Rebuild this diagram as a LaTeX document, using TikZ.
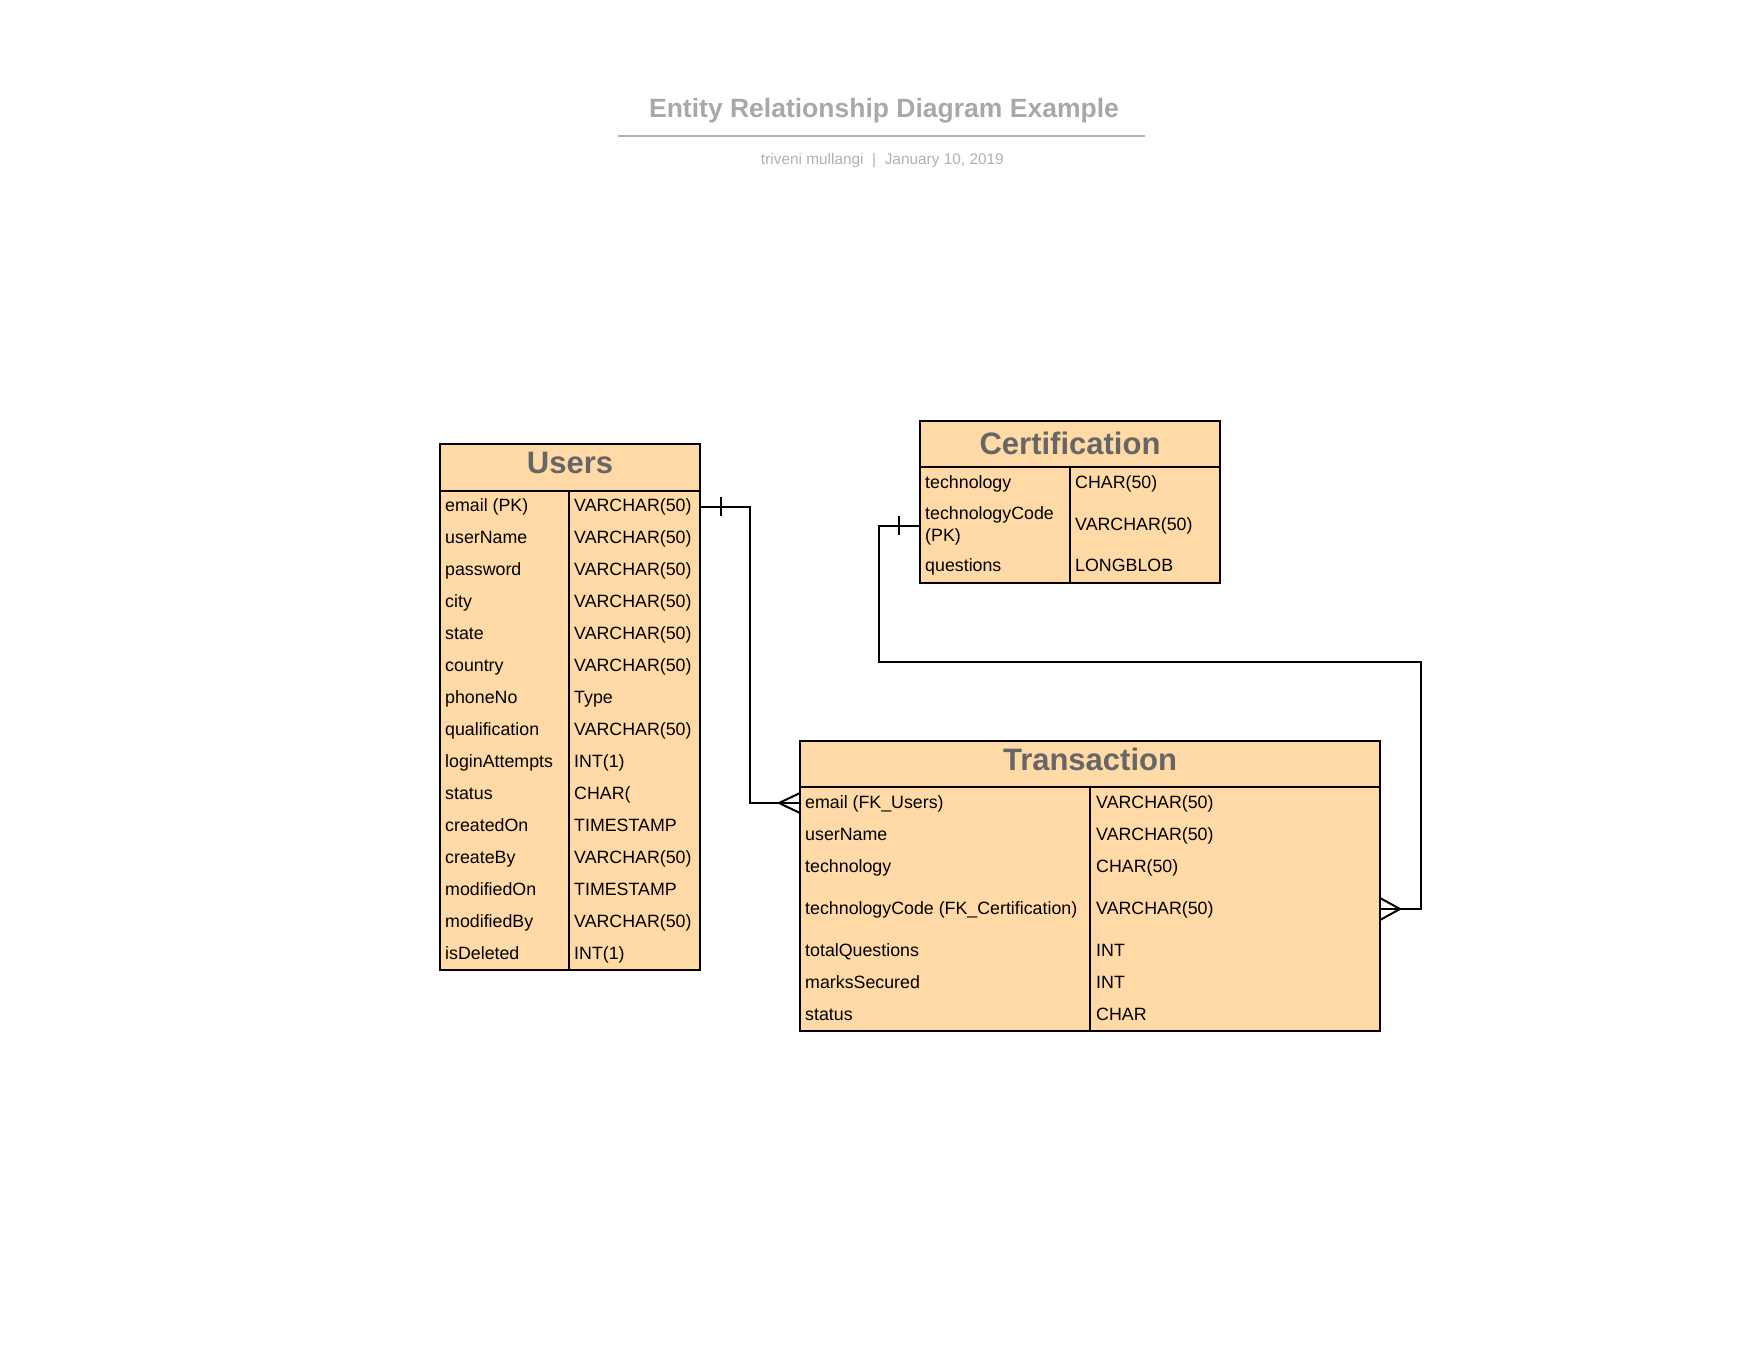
\documentclass[tikz,border=0pt]{standalone}
\usepackage{fontspec}
\setmainfont{Liberation Sans}
\definecolor{peach}{HTML}{FFD9A6}
\definecolor{hdrgray}{HTML}{666666}
\definecolor{titlegray}{HTML}{A8A8A8}
\definecolor{subgray}{HTML}{B0B0B0}
\begin{document}
\begin{tikzpicture}[x=1pt,y=-1pt,
  tbl/.style={draw=black, line width=2pt, fill=peach, rectangle, inner sep=0pt, outer sep=0pt, anchor=north west},
  hdr/.style={font=\fontsize{31}{34}\selectfont\bfseries, text=hdrgray},
  cell/.style={anchor=base west, inner sep=0pt, font=\fontsize{17.8}{21.7}\selectfont},
  mcell/.style={anchor=west, inner sep=0pt, font=\fontsize{17.8}{21.7}\selectfont, align=left},
  grid/.style={draw=black, line width=2pt},
  rel/.style={draw=black, line width=2pt},
]
\useasboundingbox (0,0) rectangle (1758,1358);

% Title
\node[anchor=base, inner sep=0pt, font=\fontsize{26.5}{30}\selectfont\bfseries, text=titlegray] (title) at (884,117.7) {Entity Relationship Diagram Example};
\draw[draw=subgray, line width=2pt] (618,135.7) -- (1145,135.7);
\node[anchor=base, inner sep=0pt, font=\fontsize{15.4}{18}\selectfont, text=subgray] (subtitle) at (882.4,164) {triveni mullangi \ | \ January 10, 2019};

% Users table
\node[tbl, minimum width=260pt, minimum height=526pt] (users) at (440,444) {};
\node[hdr] (usersh) at (570,463) {Users};
\draw[grid] (440,491) -- (700,491);
\draw[grid] (569,491) -- (569,970);
\foreach \a/\b [count=\i] in {email (PK)/VARCHAR(50), userName/VARCHAR(50), password/VARCHAR(50), city/VARCHAR(50), state/VARCHAR(50), country/VARCHAR(50), phoneNo/Type, qualification/VARCHAR(50), loginAttempts/INT(1), status/CHAR(, createdOn/TIMESTAMP, createBy/VARCHAR(50), modifiedOn/TIMESTAMP, modifiedBy/VARCHAR(50), isDeleted/INT(1)}{
  \coordinate (ur\i) at (445,{491+(\i-0.5)*31.933});
  \node[cell] (u\i) at ([yshift=-5pt]ur\i) {\a};
  \node[cell] (uv\i) at ([xshift=129pt,yshift=-5pt]ur\i) {\b};
}

% Certification table
\node[tbl, minimum width=300pt, minimum height=162pt] (cert) at (920,421) {};
\node[hdr] (certh) at (1070,443) {Certification};
\draw[grid] (920,467) -- (1220,467);
\draw[grid] (1070,467) -- (1070,583);
\node[cell] (c1) at (925,488) {technology};
\node[cell] (cv1) at (1075,488) {CHAR(50)};
\node[mcell] (c2) at (925,525.7) {technologyCode\\(PK)};
\node[mcell] (cv2) at (1075,525.7) {VARCHAR(50)};
\node[cell] (c3) at (925,571) {questions};
\node[cell] (cv3) at (1075,571) {LONGBLOB};

% Transaction table
\node[tbl, minimum width=580pt, minimum height=290pt] (trans) at (800,741) {};
\node[hdr] (transh) at (1090,759) {Transaction};
\draw[grid] (800,787) -- (1380,787);
\draw[grid] (1090,787) -- (1090,1031);
\foreach \a/\b/\y [count=\i] in {email (FK\_Users)/VARCHAR(50)/803, userName/VARCHAR(50)/835, technology/CHAR(50)/867, technologyCode (FK\_Certification)/VARCHAR(50)/909, totalQuestions/INT/951, marksSecured/INT/983, status/CHAR/1015}{
  \coordinate (tr\i) at (805,\y);
  \node[cell] (t\i) at ([yshift=-5pt]tr\i) {\a};
  \node[cell] (tv\i) at ([xshift=291pt,yshift=-5pt]tr\i) {\b};
}

% Relationship Users -> Transaction
\coordinate (uE) at (users.east |- ur1);
\coordinate (tE) at (trans.west |- tr1);
\draw[rel] (uE) -- ++(50,0) |- (tE);
\draw[rel] (uE) ++(21,-9.5) -- ++(0,19);
\draw[rel] (tE) ++(0,-10) -- ++(-21,10) -- ++(21,10);

% Relationship Certification -> Transaction
\coordinate (cE) at (cert.west |- c2);
\coordinate (tC) at (trans.east |- tr4);
\draw[rel] (cE) -- ++(-41,0) -- ++(0,136) -| ([xshift=41pt]tC) -- (tC);
\draw[rel] (cE) ++(-21,-9.5) -- ++(0,19);
\draw[rel] (tC) ++(0,-11) -- ++(20,11) -- ++(-20,11);
\end{tikzpicture}
\end{document}
